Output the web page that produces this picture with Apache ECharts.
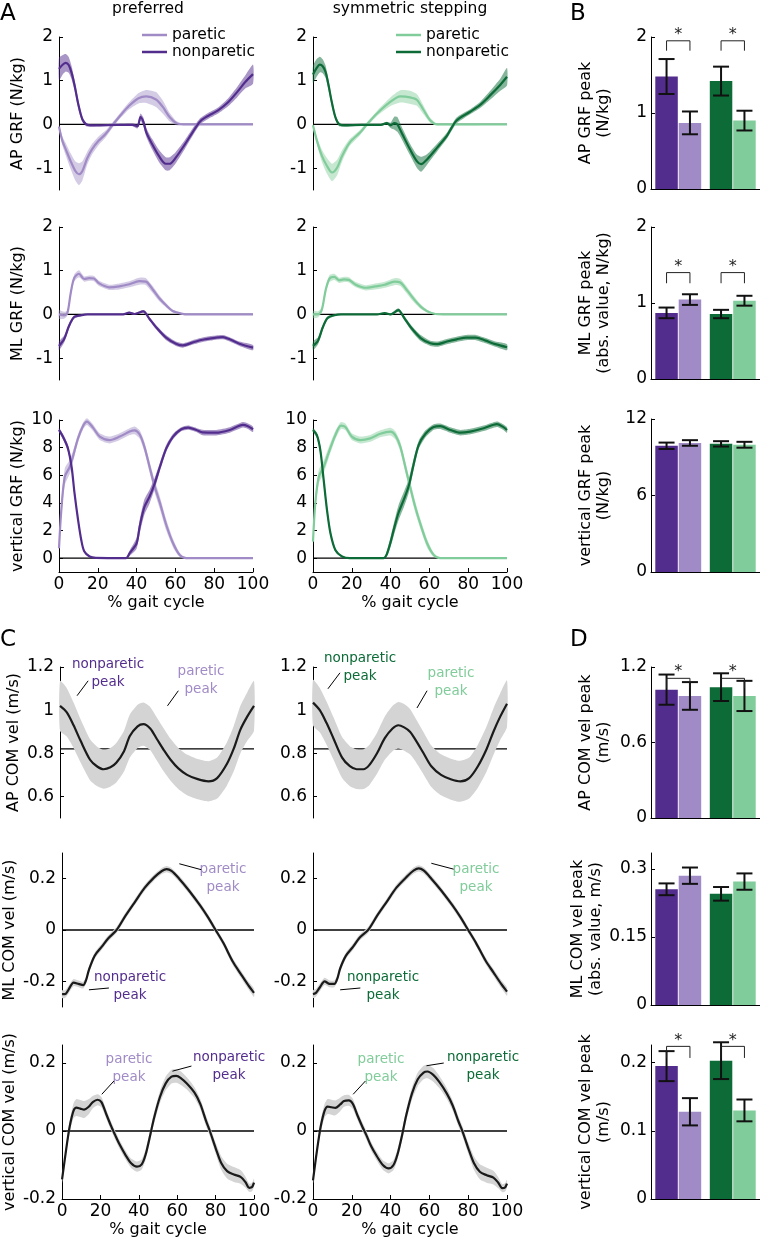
<!DOCTYPE html>
<html><head><meta charset="utf-8">
<script src="https://cdn.jsdelivr.net/npm/echarts@6/dist/echarts.min.js"></script>
<style>html,body{margin:0;padding:0;background:#fff}#c{width:760px;height:1241px}</style>
</head><body><div id="c"></div>
<script>
// ---------------- DATA ----------------
const xTicks = [0, 20, 40, 60, 80, 100];
const grfApTicks = [-1, 0, 1, 2];
const grfMlTicks = [-1, 0, 1, 2];
const grfVTicks = [0, 2, 4, 6, 8, 10];
const comApTicks = [0.6, 0.8, 1, 1.2];
const comMlTicks = [-0.2, 0, 0.2];
const comVTicks = [-0.2, 0, 0.2];
const bApGrfTicks = [0, 1, 2];
const bMlGrfTicks = [0, 1, 2];
const bVGrfTicks = [0, 6, 12];
const dApComTicks = [0, 0.6, 1.2];
const dMlComTicks = [0, 0.15, 0.3];
const dVComTicks = [0, 0.1, 0.2];
const conditions = ['preferred', 'symmetric stepping'];
const apComRef = 0.82;

// curves: [% gait cycle, mean, band half-width]
const apGrfPrefNon = [[0,1.27,0.26],[2,1.37,0.22],[3.5,1.41,0.2],[5,1.36,0.18],[6.5,1.18,0.15],[8,0.9,0.12],[10,0.45,0.1],[12,0.12,0.06],[14,0.0,0.04],[16,-0.02,0.03],[20,-0.02,0.02],[30,-0.01,0.02],[38,-0.01,0.03],[40.5,-0.04,0.05],[42,0.17,0.08],[43.5,0.06,0.1],[45,-0.18,0.1],[48,-0.45,0.12],[51.5,-0.72,0.14],[55,-0.9,0.15],[57,-0.9,0.15],[60,-0.77,0.13],[65,-0.45,0.1],[70,-0.1,0.08],[73,0.08,0.07],[77,0.2,0.07],[82,0.32,0.07],[87,0.5,0.09],[92,0.75,0.12],[96,0.97,0.15],[100,1.15,0.22]];
const apGrfPrefPar = [[0,-0.05,0.05],[1.7,-0.37,0.1],[3.5,-0.57,0.14],[6,-0.84,0.18],[8.5,-1.07,0.22],[10.3,-1.14,0.25],[12,-1.07,0.22],[14.5,-0.78,0.15],[17,-0.57,0.12],[20.5,-0.37,0.1],[24,-0.22,0.08],[27.5,-0.02,0.06],[31,0.17,0.06],[36,0.42,0.08],[41,0.6,0.12],[45,0.64,0.15],[50,0.57,0.17],[53.5,0.4,0.15],[57,0.17,0.1],[60.5,0.03,0.05],[64,0,0.02],[100,0,0.01]];
const apGrfSymNon = [[0,1.14,0.2],[2,1.3,0.2],[3.5,1.37,0.18],[5,1.33,0.16],[6.5,1.2,0.14],[8,0.9,0.12],[9.5,0.55,0.1],[11.5,0.17,0.06],[13.5,0.0,0.04],[16,-0.02,0.03],[25,-0.01,0.02],[35,-0.01,0.02],[38,0.03,0.03],[40,-0.02,0.06],[42,0.03,0.15],[43.5,0.0,0.17],[46,-0.22,0.14],[50,-0.57,0.13],[53.5,-0.84,0.15],[55.7,-0.91,0.17],[58.8,-0.8,0.12],[64,-0.53,0.09],[69,-0.26,0.07],[74,0.09,0.07],[81,0.29,0.06],[86,0.44,0.07],[91.4,0.67,0.1],[96.6,0.91,0.14],[100,1.09,0.2]];
const apGrfSymPar = [[0,-0.02,0.04],[2,-0.37,0.08],[4.6,-0.72,0.14],[7.2,-0.95,0.18],[9.8,-1.1,0.2],[12.4,-0.99,0.18],[15,-0.72,0.13],[19,-0.41,0.08],[24.4,-0.18,0.06],[27.8,0.0,0.05],[33,0.25,0.06],[40,0.52,0.1],[45,0.64,0.14],[50,0.62,0.15],[53.6,0.56,0.13],[57,0.33,0.1],[60.5,0.09,0.06],[64,0,0.02],[100,0,0.01]];

const mlGrfPrefPar = [[0,0.0,0.1],[2.6,-0.02,0.08],[4.3,0.03,0.06],[6,0.48,0.07],[7.8,0.83,0.08],[10.3,0.93,0.08],[13,0.81,0.06],[15.5,0.83,0.06],[18,0.82,0.06],[20.7,0.71,0.06],[25.9,0.62,0.06],[31,0.64,0.07],[36.2,0.69,0.07],[41.4,0.76,0.08],[44.8,0.75,0.08],[48.3,0.57,0.08],[51.7,0.37,0.07],[55.2,0.21,0.05],[58.6,0.08,0.03],[63,0.02,0.02],[67,0,0.01],[100,0,0.01]];
const mlGrfPrefNon = [[0,-0.72,0.1],[2.6,-0.57,0.08],[5.2,-0.26,0.06],[7.8,-0.06,0.04],[11.2,-0.02,0.02],[14.7,0,0.01],[33,0.0,0.01],[36.2,0.04,0.02],[39,0.01,0.02],[43.5,0.07,0.03],[46.6,-0.1,0.04],[50,-0.29,0.05],[55.2,-0.53,0.06],[60.3,-0.67,0.05],[63.8,-0.71,0.05],[69,-0.64,0.05],[74,-0.58,0.05],[79.3,-0.54,0.05],[84.5,-0.52,0.05],[88,-0.57,0.05],[93,-0.67,0.05],[100,-0.76,0.06]];
const mlGrfSymPar = [[0,0.0,0.08],[2.5,0.0,0.07],[4.5,0.1,0.06],[6.5,0.55,0.07],[8.5,0.82,0.08],[11,0.86,0.07],[13.5,0.78,0.06],[16,0.8,0.06],[18.5,0.79,0.06],[22,0.68,0.06],[27,0.61,0.06],[32,0.64,0.07],[37,0.68,0.07],[42,0.75,0.08],[45,0.73,0.08],[48.5,0.55,0.08],[52,0.35,0.07],[55.5,0.18,0.05],[59,0.07,0.03],[63,0.01,0.02],[67,0,0.01],[100,0,0.01]];
const mlGrfSymNon = [[0,-0.72,0.1],[2.6,-0.6,0.08],[5,-0.3,0.06],[7.5,-0.08,0.04],[11,-0.02,0.02],[14.5,0,0.01],[33,0,0.01],[37,0.03,0.02],[40,0.0,0.02],[44,0.1,0.04],[47,-0.08,0.05],[50.5,-0.3,0.06],[55.5,-0.54,0.07],[60.5,-0.66,0.06],[64,-0.68,0.06],[69,-0.62,0.06],[74,-0.57,0.06],[79,-0.53,0.06],[84,-0.53,0.06],[89,-0.6,0.06],[94,-0.68,0.06],[100,-0.75,0.07]];

const vGrfPrefNon = [[0,9.28,0.15],[2,8.8,0.2],[4.5,8.0,0.25],[6.5,6.6,0.25],[8,4.7,0.25],[9.8,2.8,0.2],[11.5,1.3,0.15],[13,0.5,0.1],[15.8,0.12,0.05],[19,0.02,0.02],[34.5,0.0,0.02],[36.4,0.36,0.2],[40,1.08,0.4],[41.6,2.3,0.5],[44,3.7,0.55],[46.7,4.46,0.5],[49.3,5.4,0.4],[52,6.6,0.3],[55.3,7.95,0.25],[58.8,8.8,0.2],[63,9.33,0.15],[66.5,9.45,0.15],[70.8,9.28,0.15],[74,9.1,0.2],[81,9.08,0.2],[88,9.28,0.2],[94.8,9.65,0.2],[97.4,9.55,0.2],[100,9.33,0.2]];
const vGrfPrefPar = [[0,0.72,0.3],[1.2,3.5,0.5],[3,5.9,0.6],[5.5,6.6,0.5],[7.2,7.35,0.4],[9.8,8.67,0.3],[12.4,9.57,0.25],[14.4,9.88,0.25],[17.5,9.45,0.25],[21,8.8,0.25],[26,8.55,0.25],[31.3,8.8,0.25],[36.4,9.16,0.25],[39,9.25,0.28],[41.6,8.95,0.3],[44,8.07,0.35],[46.7,6.6,0.4],[49.3,5.2,0.45],[52,4.0,0.45],[55.3,2.4,0.4],[58.8,1.08,0.3],[62.2,0.24,0.15],[65.6,0.0,0.03],[100,0,0.02]];
const vGrfSymNon = [[0,9.28,0.15],[2,8.9,0.2],[3.8,7.8,0.3],[5.5,5.66,0.35],[7.2,3.5,0.3],[9,1.8,0.2],[11.5,0.6,0.12],[15,0.12,0.05],[19,0.0,0.02],[36.4,0.0,0.03],[39,0.7,0.3],[41.6,2.05,0.45],[44,3.25,0.55],[46.7,4.2,0.55],[49.3,5.2,0.5],[52,6.87,0.4],[54.5,8.2,0.3],[58,9.0,0.25],[62.2,9.5,0.2],[65.6,9.55,0.2],[70.8,9.28,0.2],[76,9.08,0.2],[81,9.16,0.2],[88,9.4,0.2],[94.8,9.7,0.2],[98,9.5,0.2],[100,9.28,0.2]];
const vGrfSymPar = [[0,1.2,0.4],[1.2,4.0,0.5],[3,5.9,0.5],[5.5,6.6,0.45],[8,7.6,0.4],[11.5,8.9,0.3],[14.4,9.6,0.25],[16.7,9.5,0.25],[20,8.8,0.25],[24.4,8.55,0.25],[29.5,8.67,0.25],[34.7,9.0,0.25],[39.9,9.16,0.28],[42.4,8.9,0.3],[45,8.07,0.35],[47.6,6.6,0.4],[50,5.2,0.4],[52.7,3.7,0.4],[55.3,2.5,0.35],[58.8,1.08,0.3],[62.2,0.24,0.15],[65.6,0,0.03],[100,0,0.02]];

const apComPref = [[0,1.02,0.115],[3.5,0.99,0.112],[7,0.93,0.105],[10.5,0.86,0.1],[15.5,0.77,0.095],[19,0.74,0.092],[22.5,0.726,0.09],[26,0.735,0.09],[29,0.756,0.092],[33,0.81,0.095],[36,0.88,0.1],[40,0.925,0.1],[43,0.935,0.1],[46.5,0.915,0.1],[50,0.865,0.1],[53.5,0.815,0.1],[57,0.77,0.097],[61,0.73,0.095],[65.5,0.70,0.094],[71,0.68,0.093],[76.5,0.67,0.093],[81,0.685,0.095],[86,0.75,0.1],[89.5,0.82,0.105],[93,0.91,0.11],[96.5,0.97,0.112],[100,1.02,0.115]];
const apComSym = [[0,1.035,0.105],[3.5,1.0,0.103],[7,0.94,0.1],[10.5,0.87,0.098],[15,0.78,0.095],[19,0.74,0.093],[22.5,0.726,0.092],[26,0.726,0.092],[29,0.745,0.093],[33,0.8,0.095],[37,0.87,0.1],[41,0.915,0.105],[44,0.93,0.108],[47,0.92,0.108],[50,0.9,0.105],[53,0.86,0.1],[57,0.8,0.098],[61,0.74,0.096],[66,0.7,0.095],[71,0.68,0.095],[76,0.67,0.095],[80.5,0.685,0.095],[85,0.74,0.1],[89.5,0.82,0.105],[93,0.9,0.108],[96.5,0.97,0.108],[100,1.03,0.108]];

const mlComPref = [[0,-0.25,0.015],[1.5,-0.25,0.015],[3.4,-0.232,0.015],[6,-0.205,0.014],[8.6,-0.21,0.013],[11,-0.215,0.013],[12.5,-0.195,0.013],[14,-0.155,0.013],[17,-0.1,0.012],[20.7,-0.065,0.012],[24,-0.033,0.012],[28.4,0.0,0.012],[33,0.055,0.012],[38,0.11,0.012],[43,0.164,0.012],[48,0.205,0.012],[52,0.23,0.012],[54.5,0.237,0.012],[57,0.23,0.012],[61,0.2,0.012],[66,0.155,0.012],[72,0.095,0.012],[76,0.05,0.012],[80,0.0,0.012],[84,-0.05,0.012],[89,-0.124,0.013],[93,-0.17,0.014],[97,-0.215,0.015],[100,-0.245,0.016]];
const mlComSym = [[0,-0.25,0.015],[1.5,-0.245,0.015],[3.4,-0.225,0.015],[6,-0.2,0.014],[8.6,-0.21,0.013],[11,-0.21,0.013],[12.5,-0.19,0.013],[14,-0.15,0.013],[17,-0.1,0.012],[20.7,-0.065,0.012],[24,-0.03,0.012],[28.4,0.0,0.012],[33,0.055,0.012],[38,0.11,0.012],[43,0.165,0.012],[48,0.205,0.012],[52,0.232,0.012],[54.5,0.24,0.012],[57,0.232,0.012],[61,0.2,0.012],[66,0.155,0.012],[72,0.095,0.012],[76,0.05,0.012],[80,0.0,0.012],[84,-0.05,0.012],[89,-0.12,0.013],[93,-0.165,0.014],[97,-0.21,0.015],[100,-0.24,0.016]];

const vComPref = [[0,-0.142,0.01],[1.5,-0.08,0.012],[3,-0.02,0.015],[4.2,0.02,0.018],[6,0.06,0.022],[7.5,0.069,0.025],[9.5,0.066,0.025],[11.5,0.063,0.025],[14,0.072,0.022],[16,0.085,0.018],[18.5,0.092,0.016],[20.5,0.085,0.015],[23,0.05,0.013],[25.5,0.015,0.013],[27.5,-0.01,0.013],[30,-0.04,0.013],[33,-0.07,0.013],[36,-0.095,0.014],[39,-0.105,0.015],[41.5,-0.098,0.015],[43.5,-0.07,0.015],[46,-0.01,0.015],[48,0.04,0.016],[51,0.1,0.018],[54,0.14,0.02],[57,0.16,0.02],[59.5,0.162,0.02],[62,0.155,0.02],[65,0.14,0.018],[69,0.113,0.016],[72,0.08,0.015],[75,0.03,0.015],[77,0.0,0.015],[80,-0.05,0.016],[83,-0.095,0.02],[86,-0.118,0.022],[89.5,-0.128,0.022],[93,-0.135,0.02],[95.5,-0.15,0.016],[97.5,-0.167,0.012],[99,-0.165,0.012],[100,-0.152,0.012]];
const vComSym = [[0,-0.145,0.01],[1.5,-0.08,0.012],[3,-0.02,0.015],[4.2,0.02,0.018],[6,0.06,0.02],[7.5,0.072,0.022],[9.5,0.07,0.022],[11.5,0.068,0.022],[14,0.078,0.02],[16,0.088,0.017],[18.5,0.09,0.016],[20.5,0.08,0.015],[23,0.045,0.013],[25.5,0.012,0.013],[27.5,-0.012,0.013],[30,-0.045,0.013],[33,-0.075,0.013],[36,-0.1,0.014],[39,-0.11,0.015],[41.5,-0.1,0.015],[43.5,-0.07,0.015],[46,-0.01,0.015],[48,0.045,0.016],[51,0.11,0.018],[54,0.152,0.02],[57,0.172,0.02],[59,0.175,0.02],[62,0.165,0.02],[65,0.145,0.018],[69,0.11,0.016],[72,0.075,0.015],[75,0.028,0.015],[77,0.0,0.015],[80,-0.05,0.016],[83,-0.095,0.02],[86,-0.12,0.022],[89.5,-0.13,0.022],[93,-0.137,0.02],[95.5,-0.152,0.016],[97.5,-0.168,0.012],[99,-0.166,0.012],[100,-0.155,0.012]];

// peaks [preferred, symmetric stepping] and their error bars
const apGrfPeakNon = [1.48, 1.42], apGrfPeakNonSE = [0.23, 0.19];
const apGrfPeakPar = [0.87, 0.90], apGrfPeakParSE = [0.15, 0.13];
const mlGrfPeakNon = [0.87, 0.855], mlGrfPeakNonSE = [0.07, 0.055];
const mlGrfPeakPar = [1.045, 1.03], mlGrfPeakParSE = [0.07, 0.065];
const vGrfPeakNon = [9.9, 10.05], vGrfPeakNonSE = [0.25, 0.21];
const vGrfPeakPar = [10.12, 9.98], vGrfPeakParSE = [0.22, 0.23];
const apComPeakNon = [1.02, 1.04], apComPeakNonSE = [0.12, 0.11];
const apComPeakPar = [0.97, 0.97], apComPeakParSE = [0.11, 0.12];
const mlComPeakNon = [0.255, 0.245], mlComPeakNonSE = [0.013, 0.015];
const mlComPeakPar = [0.285, 0.272], mlComPeakParSE = [0.018, 0.018];
const vComPeakNon = [0.195, 0.203], vComPeakNonSE = [0.022, 0.027];
const vComPeakPar = [0.128, 0.13], vComPeakParSE = [0.02, 0.016];
// significance brackets [top, leg end] per condition
const apGrfSig = [[1.95, 1.82], [1.95, 1.82]];
const mlGrfSig = [[1.40, 1.26], [1.40, 1.26]];
const apComSig = [[1.11, 1.03], [1.11, 1.03]];
const vComSig = [[0.224, 0.207], [0.224, 0.207]];

// ---------------- STYLE ----------------
const FONT = 'DejaVu Sans';
const PD = '#532d8e', PL = '#a08bc6', GD = '#0c6b37', GL = '#80cc9a';
const PDb = 'rgba(83,45,142,0.5)', PLb = 'rgba(160,139,198,0.45)', GDb = 'rgba(12,107,55,0.5)', GLb = 'rgba(128,204,154,0.45)';
const GRAY = '#d4d4d4', BLACK = '#1a1a1a';
const BAR_W = 22.5, BAR_GAP = 0.04, CAP = 16;
const TICK_FS = 17, NAME_FS = 16;

const grids = [], xAxes = [], yAxes = [], series = [];
const nameStyle = {color: '#000', fontFamily: FONT, fontSize: NAME_FS, lineHeight: 18};

function yAxisCfg(gi, min, max, ticks, name, gap, margin) {
  return {gridIndex: gi, type: 'value', min: min, max: max,
    axisLine: {show: true, onZero: false, lineStyle: {color: '#000', width: 1}},
    axisTick: {show: true, inside: true, length: 4, customValues: ticks, lineStyle: {color: '#000'}},
    axisLabel: {show: true, customValues: ticks, margin: margin, color: '#000', fontFamily: FONT, fontSize: TICK_FS},
    splitLine: {show: false},
    name: name || '', nameLocation: 'middle', nameGap: gap, nameTextStyle: nameStyle};
}

function linePanel(left, top, height, ymin, ymax, ticks, yname, showX, refs) {
  const gi = grids.length;
  grids.push({left: left, top: top, width: 194, height: height});
  xAxes.push({gridIndex: gi, type: 'value', min: xTicks[0], max: xTicks[xTicks.length - 1],
    axisLine: {show: showX, onZero: false, lineStyle: {color: '#000'}},
    axisTick: {show: showX, inside: true, length: 4, customValues: xTicks, lineStyle: {color: '#000'}},
    axisLabel: {show: showX, customValues: xTicks, margin: 4, color: '#000', fontFamily: FONT, fontSize: TICK_FS},
    splitLine: {show: false},
    name: showX ? '% gait cycle' : '', nameLocation: 'middle', nameGap: 22, nameTextStyle: nameStyle});
  yAxes.push(yAxisCfg(gi, ymin, ymax, ticks, yname, 32, 6));
  refs.forEach(v => {
    series.push({type: 'line', xAxisIndex: gi, yAxisIndex: gi, silent: true, z: 1, showSymbol: false, symbol: 'none',
      data: [[xTicks[0], v], [xTicks[xTicks.length - 1], v]], lineStyle: {color: '#000', width: 1.3}});
  });
  return gi;
}

function bandSeries(gi, pts, color) {
  return {type: 'custom', xAxisIndex: gi, yAxisIndex: gi, z: 2, silent: true,
    data: pts.map(p => [p[0], p[1] - p[2], p[1] + p[2]]),
    encode: {x: 0, y: [1, 2]},
    renderItem: function (params, api) {
      if (params.dataIndex !== 0) return;
      const up = pts.map(p => api.coord([p[0], p[1] + p[2]]));
      const lo = pts.map(p => api.coord([p[0], p[1] - p[2]])).reverse();
      return {type: 'polygon', shape: {points: up.concat(lo), smooth: 0.2}, style: {fill: color}};
    }};
}

function meanSeries(gi, pts, color, name, arrows) {
  const s = {type: 'line', xAxisIndex: gi, yAxisIndex: gi, z: 3, silent: true, showSymbol: false, symbol: 'none',
    data: pts.map(p => [p[0], p[1]]), smooth: 0.3,
    lineStyle: {color: color, width: 2.2}, itemStyle: {color: color}};
  if (name) s.name = name;
  if (arrows) {
    s.markLine = {silent: true, symbol: ['none', 'arrow'], symbolSize: [0, 7], label: {show: false},
      lineStyle: {color: '#000', width: 1, type: 'solid'}, emphasis: {disabled: true},
      data: arrows.map(a => [{coord: a[0]}, {coord: a[1]}])};
  }
  return s;
}

function grfPair(gi, par, non, colL, colD, bandL, bandD, names) {
  series.push(bandSeries(gi, par, bandL));
  series.push(bandSeries(gi, non, bandD));
  series.push(meanSeries(gi, par, colL, names ? names[0] : null));
  series.push(meanSeries(gi, non, colD, names ? names[1] : null));
}

function comPanel(gi, pts, arrows) {
  series.push(bandSeries(gi, pts, GRAY));
  series.push(meanSeries(gi, pts, BLACK, null, arrows));
}

function barPanel(top, height, max, ticks, name, non, nonSE, par, parSE, sig) {
  const gi = grids.length;
  grids.push({left: 651, top: top, width: 114, height: height});
  xAxes.push({gridIndex: gi, type: 'category', data: conditions,
    axisLine: {show: true, lineStyle: {color: '#000'}}, axisTick: {show: false}, axisLabel: {show: false}, splitLine: {show: false}});
  yAxes.push(yAxisCfg(gi, 0, max, ticks, name, 38, 4));
  const off = BAR_W / 2 + BAR_W * BAR_GAP / 2;
  series.push({type: 'bar', xAxisIndex: gi, yAxisIndex: gi, silent: true, barWidth: BAR_W, barGap: (BAR_GAP * 100) + '%', z: 2,
    data: non.map((v, i) => ({value: v, itemStyle: {color: i === 0 ? PD : GD}}))});
  series.push({type: 'bar', xAxisIndex: gi, yAxisIndex: gi, silent: true, barWidth: BAR_W, barGap: (BAR_GAP * 100) + '%', z: 2,
    data: par.map((v, i) => ({value: v, itemStyle: {color: i === 0 ? PL : GL}}))});
  [[non, nonSE, -1], [par, parSE, 1]].forEach(([m, se, slot]) => {
    series.push({type: 'custom', xAxisIndex: gi, yAxisIndex: gi, z: 5, silent: true,
      data: m.map((v, i) => [i, v, se[i]]),
      renderItem: function (params, api) {
        const i = api.value(0), v = api.value(1), e = api.value(2);
        const t = api.coord([i, v + e]), b = api.coord([i, v - e]);
        const x = t[0] + slot * off;
        const st = {stroke: '#111', lineWidth: 2};
        return {type: 'group', children: [
          {type: 'line', shape: {x1: x, y1: t[1], x2: x, y2: b[1]}, style: st},
          {type: 'line', shape: {x1: x - CAP / 2, y1: t[1], x2: x + CAP / 2, y2: t[1]}, style: st},
          {type: 'line', shape: {x1: x - CAP / 2, y1: b[1], x2: x + CAP / 2, y2: b[1]}, style: st}]};
      }});
  });
  if (sig) {
    series.push({type: 'custom', xAxisIndex: gi, yAxisIndex: gi, z: 6, silent: true,
      data: sig.map((s, i) => [i, s[0], s[1]]),
      renderItem: function (params, api) {
        const i = api.value(0);
        const t = api.coord([i, api.value(1)]), l = api.coord([i, api.value(2)]);
        const xl = t[0] - off, xr = t[0] + off;
        return {type: 'group', children: [
          {type: 'polyline', shape: {points: [[xl, l[1]], [xl, t[1]], [xr, t[1]], [xr, l[1]]]}, style: {stroke: '#222', lineWidth: 1, fill: null}},
          {type: 'text', x: t[0], y: t[1] - 6, style: {text: '*', fill: '#222', font: '16px ' + FONT, align: 'center', verticalAlign: 'middle'}}]};
      }});
  }
}

// ---------------- PANELS ----------------
const C1 = 59, C2 = 313;
// A
let g;
g = linePanel(C1, 37, 153, -1.5, 2, grfApTicks, 'AP GRF (N/kg)', false, [0]);
grfPair(g, apGrfPrefPar, apGrfPrefNon, PL, PD, PLb, PDb, ['paretic', 'nonparetic']);
g = linePanel(C2, 37, 153, -1.5, 2, grfApTicks, '', false, [0]);
grfPair(g, apGrfSymPar, apGrfSymNon, GL, GD, GLb, GDb, ['paretic ', 'nonparetic ']);
g = linePanel(C1, 227, 153, -1.5, 2, grfMlTicks, 'ML GRF (N/kg)', false, [0]);
grfPair(g, mlGrfPrefPar, mlGrfPrefNon, PL, PD, PLb, PDb);
g = linePanel(C2, 227, 153, -1.5, 2, grfMlTicks, '', false, [0]);
grfPair(g, mlGrfSymPar, mlGrfSymNon, GL, GD, GLb, GDb);
g = linePanel(C1, 420, 152, -1, 10, grfVTicks, 'vertical GRF (N/kg)', true, [0]);
grfPair(g, vGrfPrefPar, vGrfPrefNon, PL, PD, PLb, PDb);
g = linePanel(C2, 420, 152, -1, 10, grfVTicks, '', true, [0]);
grfPair(g, vGrfSymPar, vGrfSymNon, GL, GD, GLb, GDb);
// B
barPanel(37, 152, 2, bApGrfTicks, 'AP GRF peak\n(N/kg)', apGrfPeakNon, apGrfPeakNonSE, apGrfPeakPar, apGrfPeakParSE, apGrfSig);
barPanel(227, 152, 2, bMlGrfTicks, 'ML GRF peak\n(abs. value, N/kg)', mlGrfPeakNon, mlGrfPeakNonSE, mlGrfPeakPar, mlGrfPeakParSE, mlGrfSig);
barPanel(419, 153, 12, bVGrfTicks, 'vertical GRF peak\n(N/kg)', vGrfPeakNon, vGrfPeakNonSE, vGrfPeakPar, vGrfPeakParSE, null);
// C
g = linePanel(C1 + 1, 667, 151, 0.5, 1.2, comApTicks, 'AP COM vel (m/s)', false, [apComRef]);
comPanel(g, apComPref, [[[14.5, 1.136], [8.8, 1.067]], [[61, 1.09], [55.4, 1.02]]]);
g = linePanel(C2, 667, 151, 0.5, 1.2, comApTicks, '', false, [apComRef]);
comPanel(g, apComSym, [[[13.9, 1.173], [7.7, 1.099]], [[58.8, 1.09], [53.6, 1.01]]]);
g = linePanel(C1 + 1, 853, 154, -0.3, 0.3, comMlTicks, 'ML COM vel (m/s)', false, [0]);
comPanel(g, mlComPref, [[[72.5, 0.235], [61.1, 0.258]], [[24.4, -0.226], [14, -0.233]]]);
g = linePanel(C2, 853, 154, -0.3, 0.3, comMlTicks, '', false, [0]);
comPanel(g, mlComSym, [[[72.5, 0.237], [61, 0.26]], [[24.4, -0.226], [14, -0.233]]]);
g = linePanel(C1 + 1, 1045, 154, -0.2, 0.253, comVTicks, 'vertical COM vel (m/s)', true, [0]);
comPanel(g, vComPref, [[[27, 0.147], [20.7, 0.108]], [[67.4, 0.191], [57.5, 0.176]]]);
g = linePanel(C2, 1045, 154, -0.2, 0.253, comVTicks, '', true, [0]);
comPanel(g, vComSym, [[[27, 0.147], [20.7, 0.108]], [[67.4, 0.2], [58.5, 0.192]]]);
// D
barPanel(667, 151, 1.2, dApComTicks, 'AP COM vel peak\n(m/s)', apComPeakNon, apComPeakNonSE, apComPeakPar, apComPeakParSE, apComSig);
barPanel(853, 152, 0.335, dMlComTicks, 'ML COM vel peak\n(abs. value, m/s)', mlComPeakNon, mlComPeakNonSE, mlComPeakPar, mlComPeakParSE, null);
barPanel(1045, 154, 0.226, dVComTicks, 'vertical COM vel peak\n(m/s)', vComPeakNon, vComPeakNonSE, vComPeakPar, vComPeakParSE, vComSig);

// ---------------- TEXT ----------------
const txt = (t, x, y, size, color, align) => ({type: 'text', x: x, y: y, silent: true,
  style: {text: t, fill: color || '#000', font: size + 'px ' + FONT, align: align || 'center', verticalAlign: 'middle', lineHeight: 18}});
const AN = 13.5;
const graphics = [
  txt('A', 0, 14, 23, '#000', 'left'), txt('B', 570, 14, 23, '#000', 'left'),
  txt('C', 0, 640, 23, '#000', 'left'), txt('D', 570, 640, 23, '#000', 'left'),
  txt('preferred', 148, 9, 15.5), txt('symmetric stepping', 410, 9, 15.5),
  txt('nonparetic\npeak', 108, 673, AN, PD), txt('paretic\npeak', 201, 680.5, AN, PL),
  txt('nonparetic\npeak', 360, 667.5, AN, GD), txt('paretic\npeak', 451, 682.5, AN, GL),
  txt('paretic\npeak', 223, 878, AN, PL), txt('nonparetic\npeak', 130, 986, AN, PD),
  txt('paretic\npeak', 476, 878, AN, GL), txt('nonparetic\npeak', 383, 986, AN, GD),
  txt('paretic\npeak', 129, 1068.5, AN, PL), txt('nonparetic\npeak', 229, 1066, AN, PD),
  txt('paretic\npeak', 381, 1068.5, AN, GL), txt('nonparetic\npeak', 483, 1066, AN, GD)
];

const legendCfg = (names, left) => ({data: names, left: left, top: 22, orient: 'vertical', icon: 'rect',
  itemWidth: 25, itemHeight: 2.5, itemGap: 1, selectedMode: false,
  formatter: n => n.trim(), textStyle: {color: '#000', fontFamily: FONT, fontSize: 15.5, lineHeight: 15, padding: [0, 0, 0, 0]}});

const chart = echarts.init(document.getElementById('c'), null, {renderer: 'canvas'});
chart.setOption({
  animation: false, backgroundColor: '#fff',
  grid: grids, xAxis: xAxes, yAxis: yAxes, series: series,
  legend: [legendCfg(['paretic', 'nonparetic'], 137), legendCfg(['paretic ', 'nonparetic '], 391)],
  graphic: graphics
});
</script></body></html>
